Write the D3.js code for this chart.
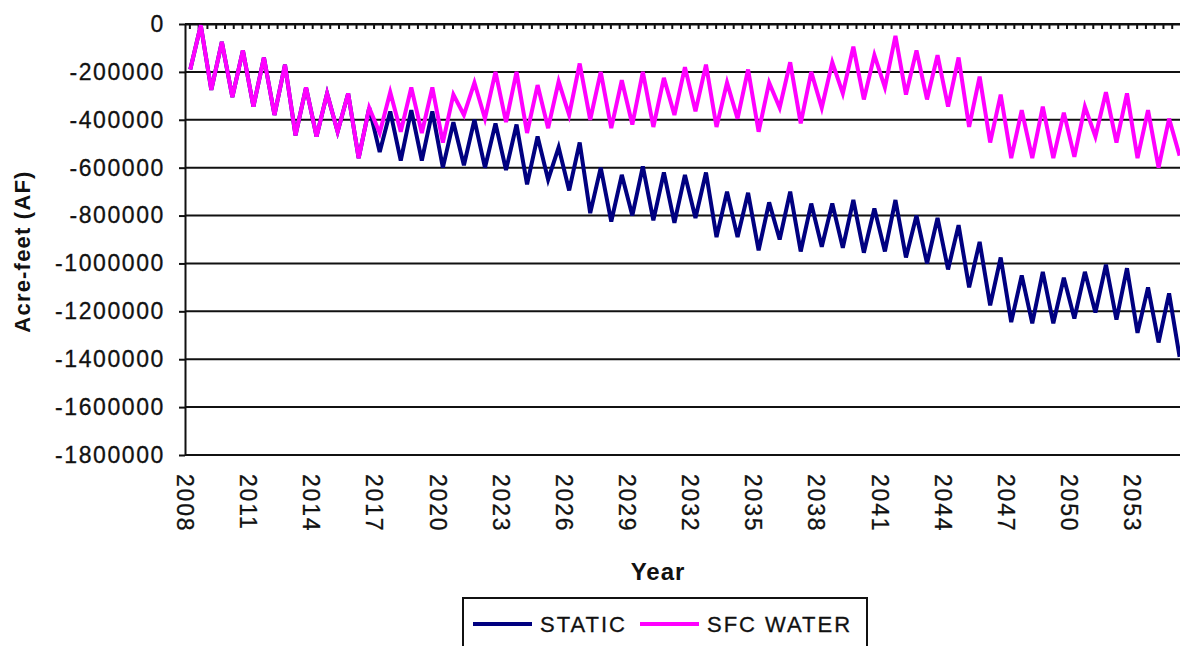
<!DOCTYPE html>
<html>
<head>
<meta charset="utf-8">
<script src="https://cdn.jsdelivr.net/npm/d3@7"></script>
<style>
  html, body { margin: 0; padding: 0; background: #fff; }
  svg { display: block; font-family: "Liberation Sans", Arial, sans-serif; }
</style>
</head>
<body>
<div id="chart"></div>
<script>
// one low (spring) and one high (autumn) reading per year, acre-feet
const years = d3.range(2008, 2056);

const staticLow = [
  -190000, -275000, -305000, -345000, -380000, -465000, -470000, -450000, -560000, -535000,
  -570000, -570000, -600000, -590000, -600000, -610000, -670000, -650000, -695000, -790000,
  -825000, -800000, -820000, -830000, -810000, -890000, -890000, -945000, -900000, -950000,
  -930000, -935000, -955000, -950000, -975000, -1000000, -1025000, -1100000, -1175000, -1245000,
  -1250000, -1250000, -1230000, -1205000, -1235000, -1290000, -1330000, -1390000
];
const staticHigh = [
  -5000, -75000, -110000, -140000, -170000, -265000, -290000, -290000, -350000, -365000,
  -360000, -365000, -410000, -400000, -415000, -420000, -470000, -515000, -495000, -600000,
  -630000, -595000, -620000, -630000, -620000, -700000, -705000, -745000, -700000, -750000,
  -750000, -735000, -770000, -735000, -800000, -810000, -840000, -910000, -975000, -1050000,
  -1035000, -1060000, -1035000, -1005000, -1020000, -1100000, -1125000
];
const sfcLow = [
  -190000, -275000, -305000, -345000, -380000, -465000, -470000, -450000, -560000, -455000,
  -450000, -455000, -495000, -380000, -395000, -410000, -455000, -435000, -380000, -400000,
  -435000, -420000, -430000, -380000, -365000, -430000, -395000, -450000, -350000, -415000,
  -350000, -290000, -315000, -265000, -295000, -315000, -345000, -430000, -495000, -560000,
  -560000, -560000, -555000, -470000, -495000, -560000, -600000, -550000
];
const sfcHigh = [
  -5000, -75000, -110000, -140000, -170000, -265000, -290000, -290000, -350000, -285000,
  -265000, -265000, -295000, -245000, -200000, -200000, -255000, -240000, -165000, -200000,
  -235000, -200000, -225000, -180000, -170000, -245000, -190000, -245000, -160000, -200000,
  -160000, -95000, -130000, -50000, -110000, -130000, -140000, -220000, -295000, -360000,
  -345000, -370000, -345000, -285000, -290000, -360000, -395000
];

const yTicks = d3.range(0, -1800001, -200000);
const xLabelYears = d3.range(2008, 2054, 3);

const seriesNames = ["STATIC", "SFC WATER"];
const seriesColors = ["#000080", "#ff00ff"];

function toPoints(low, high) {
  const pts = [];
  years.forEach((yr, i) => {
    if (low[i] !== undefined) pts.push({ t: yr + 0.25, v: low[i] });
    if (high[i] !== undefined) pts.push({ t: yr + 0.75, v: high[i] });
  });
  return pts;
}

const series = [
  toPoints(staticLow, staticHigh),
  toPoints(sfcLow, sfcHigh)
];

const width = 1180, height = 646;
const margin = { left: 185, top: 24, right: 0, bottom: 191 };

const x = d3.scaleLinear()
  .domain([2008, 2008 + (width - margin.left) / 21.05])
  .range([margin.left, width]);
const y = d3.scaleLinear()
  .domain([-1800000, 0])
  .range([height - margin.bottom, margin.top]);

const svg = d3.select("#chart").append("svg")
  .attr("width", width)
  .attr("height", height);

svg.append("rect").attr("width", width).attr("height", height).attr("fill", "#fff");

svg.append("clipPath").attr("id", "plot")
  .append("rect")
  .attr("x", margin.left).attr("y", 0)
  .attr("width", width - margin.left).attr("height", height);

// horizontal gridlines
svg.append("g")
  .selectAll("line")
  .data(yTicks)
  .join("line")
  .attr("x1", margin.left).attr("x2", width)
  .attr("y1", d => y(d)).attr("y2", d => y(d))
  .attr("stroke", "#111")
  .attr("stroke-width", 2);

// y axis, plain hyphen for the minus sign
const yAxis = svg.append("g")
  .attr("transform", `translate(${margin.left},0)`)
  .call(d3.axisLeft(y).tickValues(yTicks).tickSize(6).tickSizeOuter(0).tickFormat(d => String(d)));
yAxis.select(".domain").attr("stroke", "#111").attr("stroke-width", 2);
yAxis.selectAll(".tick line").attr("stroke", "#111").attr("stroke-width", 2);
yAxis.selectAll(".tick text")
  .attr("x", -20)
  .attr("font-size", 23)
  .attr("letter-spacing", "1.6px")
  .attr("fill", "#111")
  .attr("stroke", "#111")
  .attr("stroke-width", 0.3)
  .attr("font-family", "Liberation Sans, Arial, sans-serif");

// category axis at value 0, with small ticks pointing down
const topAxis = svg.append("g")
  .attr("transform", `translate(0,${y(0)})`)
  .call(d3.axisBottom(x)
    .tickValues(d3.range(2008 + 2.5 / 12, x.domain()[1], 5 / 12))
    .tickSize(5).tickSizeOuter(0).tickFormat(""));
topAxis.select(".domain").attr("stroke", "#111").attr("stroke-width", 2);
topAxis.selectAll(".tick line").attr("stroke", "#111").attr("stroke-width", 2);

// year labels at the bottom, rotated
svg.append("g")
  .selectAll("text")
  .data(xLabelYears)
  .join("text")
  .attr("transform", d => `translate(${x(d)},${y(-1800000) + 19}) rotate(90)`)
  .attr("dy", "0.35em")
  .attr("font-size", 23)
  .attr("letter-spacing", "1.8px")
  .attr("fill", "#111")
  .attr("stroke", "#111")
  .attr("stroke-width", 0.3)
  .text(d => d);

// lines
const line = d3.line().x(d => x(d.t)).y(d => y(d.v));
svg.append("g")
  .attr("clip-path", "url(#plot)")
  .selectAll("path")
  .data(series)
  .join("path")
  .attr("fill", "none")
  .attr("stroke", (d, i) => seriesColors[i])
  .attr("stroke-width", 4)
  .attr("stroke-linejoin", "miter")
  .attr("d", line);

// axis titles
svg.append("text")
  .attr("transform", `translate(30,${(y(0) + y(-1800000)) / 2 + 12}) rotate(-90)`)
  .attr("text-anchor", "middle")
  .attr("font-size", 22)
  .attr("font-weight", "bold")
  .attr("letter-spacing", "1.2px")
  .attr("fill", "#111")
  .text("Acre-feet (AF)");

svg.append("text")
  .attr("x", 658).attr("y", 580)
  .attr("text-anchor", "middle")
  .attr("font-size", 24)
  .attr("font-weight", "bold")
  .attr("letter-spacing", "1px")
  .attr("fill", "#111")
  .text("Year");

// legend
const legend = svg.append("g").attr("transform", "translate(463,598)");
legend.append("rect")
  .attr("width", 404).attr("height", 70)
  .attr("fill", "#fff").attr("stroke", "#111").attr("stroke-width", 2);
const item = legend.selectAll("g")
  .data(seriesNames)
  .join("g")
  .attr("transform", (d, i) => `translate(${i ? 177 : 10},0)`);
item.append("line")
  .attr("x1", 0).attr("x2", 59)
  .attr("y1", 26).attr("y2", 26)
  .attr("stroke", (d, i) => seriesColors[i])
  .attr("stroke-width", 4);
item.append("text")
  .attr("x", 67).attr("y", 34)
  .attr("font-size", 22)
  .attr("letter-spacing", "2px")
  .attr("fill", "#111")
  .attr("stroke", "#111")
  .attr("stroke-width", 0.3)
  .text(d => d);
</script>
</body>
</html>
